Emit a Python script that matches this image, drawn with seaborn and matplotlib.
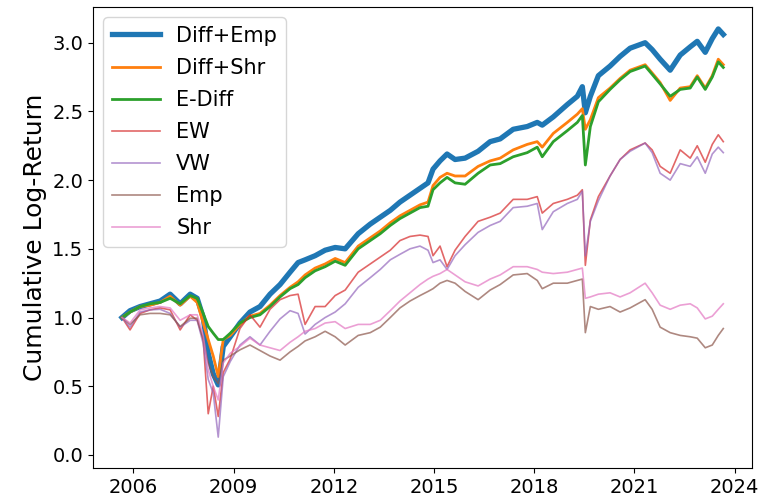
import matplotlib
matplotlib.use("Agg")
import matplotlib.pyplot as plt
import numpy as np
import pandas as pd
import seaborn as sns

# time axis (decimal years)
years = [2005.66, 2005.90, 2006.20, 2006.50, 2006.80, 2007.10, 2007.40, 2007.70, 2007.91, 2008.09,
         2008.24, 2008.39, 2008.54, 2008.69, 2008.90, 2009.19,
         2009.49, 2009.79, 2010.09, 2010.39, 2010.69, 2010.93, 2011.14, 2011.44, 2011.74, 2012.04, 2012.34,
         2012.73, 2013.09, 2013.39, 2013.69, 2013.98, 2014.28, 2014.58, 2014.82, 2014.97, 2015.18,
         2015.39, 2015.63, 2015.93, 2016.32,
         2016.68, 2016.98, 2017.37, 2017.79, 2018.09, 2018.24, 2018.57, 2018.99, 2019.29, 2019.44,
         2019.53, 2019.68, 2019.92,
         2020.27, 2020.57, 2020.87, 2021.32, 2021.53, 2021.77, 2022.07, 2022.37, 2022.67, 2022.88,
         2023.12, 2023.33, 2023.51, 2023.66]

diff_emp = [1.00, 1.05, 1.08, 1.10, 1.12, 1.17, 1.10, 1.17, 1.14, 1.00, 0.74, 0.59, 0.51, 0.79, 0.86, 0.96,
            1.04, 1.08, 1.17, 1.24, 1.33, 1.40, 1.42, 1.45, 1.49, 1.51, 1.50,
            1.61, 1.68, 1.73, 1.78, 1.84, 1.89, 1.94, 1.98, 2.08, 2.14, 2.19, 2.15, 2.16, 2.21,
            2.28, 2.30, 2.37, 2.39, 2.42, 2.40, 2.46, 2.55, 2.61, 2.68, 2.49, 2.61, 2.76,
            2.83, 2.90, 2.96, 3.00, 2.95, 2.88, 2.80, 2.91, 2.97, 3.01, 2.93, 3.03, 3.10, 3.06]

diff_shr = [1.00, 1.04, 1.08, 1.09, 1.11, 1.155, 1.09, 1.155, 1.11, 0.96, 0.84, 0.72, 0.57, 0.84, 0.87, 0.95,
            1.01, 1.03, 1.09, 1.16, 1.22, 1.26, 1.31, 1.36, 1.39, 1.43, 1.40,
            1.52, 1.58, 1.63, 1.69, 1.74, 1.78, 1.82, 1.84, 1.96, 2.02, 2.05, 2.03, 2.03, 2.10,
            2.14, 2.16, 2.22, 2.26, 2.28, 2.24, 2.34, 2.42, 2.48, 2.52, 2.37, 2.44, 2.60,
            2.67, 2.74, 2.80, 2.84, 2.78, 2.71, 2.58, 2.67, 2.68, 2.76, 2.67, 2.76, 2.88, 2.84]

e_diff = [1.00, 1.04, 1.08, 1.10, 1.11, 1.14, 1.10, 1.16, 1.14, 1.03, 0.935, 0.886, 0.84, 0.84, 0.886, 0.96,
          1.00, 1.02, 1.08, 1.15, 1.21, 1.24, 1.29, 1.34, 1.37, 1.41, 1.38,
          1.50, 1.56, 1.61, 1.67, 1.72, 1.76, 1.80, 1.81, 1.93, 1.98, 2.02, 1.98, 1.97, 2.05,
          2.11, 2.12, 2.17, 2.20, 2.24, 2.17, 2.28, 2.36, 2.42, 2.47, 2.11, 2.39, 2.57,
          2.66, 2.73, 2.79, 2.83, 2.77, 2.70, 2.61, 2.66, 2.67, 2.75, 2.66, 2.75, 2.86, 2.82]

ew = [1.00, 0.91, 1.03, 1.056, 1.07, 1.056, 0.91, 1.02, 0.98, 0.84, 0.30, 0.50, 0.28, 0.60, 0.70, 0.92,
      1.02, 0.93, 1.06, 1.13, 1.16, 1.17, 0.95, 1.08, 1.08, 1.16, 1.20,
      1.33, 1.39, 1.44, 1.49, 1.56, 1.59, 1.60, 1.59, 1.45, 1.52, 1.37, 1.49, 1.59, 1.70,
      1.73, 1.76, 1.86, 1.86, 1.88, 1.76, 1.83, 1.86, 1.89, 1.93, 1.38, 1.71, 1.88,
      2.03, 2.15, 2.22, 2.27, 2.22, 2.10, 2.05, 2.22, 2.16, 2.25, 2.13, 2.26, 2.33, 2.28]

vw = [1.00, 0.93, 1.04, 1.056, 1.06, 1.03, 0.93, 0.98, 0.98, 0.81, 0.55, 0.45, 0.13, 0.57, 0.68, 0.80,
      0.86, 0.80, 0.90, 0.99, 1.05, 1.03, 0.88, 0.95, 1.00, 1.04, 1.10,
      1.22, 1.29, 1.35, 1.42, 1.46, 1.50, 1.52, 1.49, 1.40, 1.42, 1.35, 1.45, 1.53, 1.62,
      1.67, 1.70, 1.80, 1.81, 1.83, 1.64, 1.77, 1.83, 1.86, 1.92, 1.45, 1.70, 1.85,
      2.03, 2.15, 2.21, 2.27, 2.20, 2.05, 2.00, 2.12, 2.10, 2.17, 2.05, 2.19, 2.24, 2.20]

emp = [1.00, 0.95, 1.02, 1.03, 1.03, 1.02, 0.935, 0.995, 0.995, 0.84, 0.67, 0.57, 0.52, 0.69, 0.72, 0.765,
       0.80, 0.76, 0.72, 0.69, 0.75, 0.79, 0.83, 0.86, 0.90, 0.86, 0.80,
       0.87, 0.89, 0.93, 1.00, 1.07, 1.12, 1.16, 1.19, 1.21, 1.25, 1.27, 1.25, 1.19, 1.13,
       1.20, 1.24, 1.31, 1.32, 1.27, 1.21, 1.25, 1.25, 1.27, 1.28, 0.89, 1.08, 1.06,
       1.08, 1.04, 1.07, 1.13, 1.06, 0.93, 0.89, 0.87, 0.86, 0.85, 0.78, 0.80, 0.87, 0.92]

shr = [1.00, 0.96, 1.056, 1.07, 1.08, 1.07, 0.98, 1.02, 1.02, 0.87, 0.62, 0.50, 0.40, 0.67, 0.74, 0.79,
       0.85, 0.80, 0.78, 0.76, 0.82, 0.86, 0.90, 0.92, 0.96, 0.97, 0.92,
       0.95, 0.95, 0.98, 1.05, 1.12, 1.18, 1.24, 1.28, 1.30, 1.32, 1.35, 1.31, 1.26, 1.23,
       1.28, 1.31, 1.37, 1.37, 1.35, 1.33, 1.32, 1.33, 1.35, 1.36, 1.14, 1.15, 1.17,
       1.18, 1.15, 1.18, 1.25, 1.18, 1.09, 1.06, 1.09, 1.10, 1.07, 0.99, 1.01, 1.06, 1.10]

labels = ['Diff+Emp', 'Diff+Shr', 'E-Diff', 'EW', 'VW', 'Emp', 'Shr']
tick_years = [2006, 2009, 2012, 2015, 2018, 2021, 2024]

df = pd.DataFrame({'Year': years, 'Diff+Emp': diff_emp, 'Diff+Shr': diff_shr, 'E-Diff': e_diff,
                   'EW': ew, 'VW': vw, 'Emp': emp, 'Shr': shr})

colors = sns.color_palette('tab10')
widths = [3.8, 2.0, 2.0, 1.2, 1.2, 1.2, 1.2]
alphas = [1.0, 1.0, 1.0, 0.7, 0.7, 0.7, 0.7]

fig, ax = plt.subplots(figsize=(7.59, 4.98), dpi=100)
fig.subplots_adjust(left=0.1225, right=0.9908, bottom=0.0602, top=0.986)

for i, name in enumerate(labels):
    sns.lineplot(data=df, x='Year', y=name, ax=ax, label=name, color=colors[i],
                 linewidth=widths[i], alpha=alphas[i], estimator=None)

ax.set_xlim(2004.79, 2024.52)
ax.set_ylim(-0.095, 3.26)
ax.set_xticks(tick_years)
ax.set_xticklabels([str(y) for y in tick_years])
ax.set_yticks(np.arange(0, 3.01, 0.5))
ax.tick_params(labelsize=14)
ax.set_xlabel('')
ax.set_ylabel('Cumulative Log-Return', fontsize=18)
ax.legend(loc='upper left', fontsize=15, handlelength=2.3, labelspacing=0.58)

plt.savefig('out.png', dpi=100)
